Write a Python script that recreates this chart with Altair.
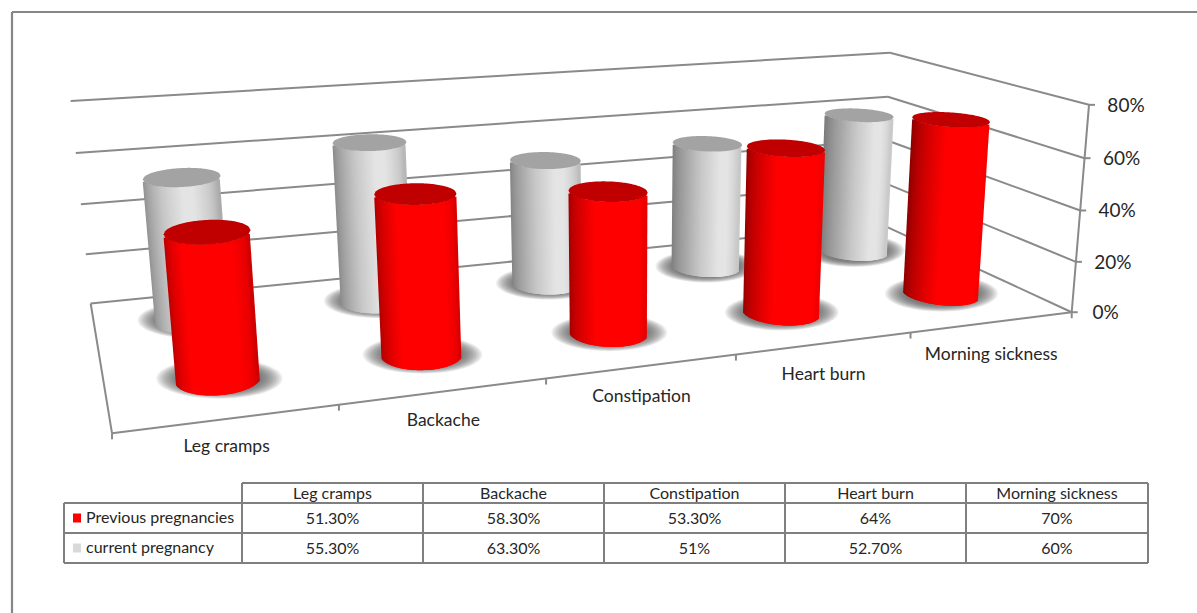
import altair as alt
import numpy as np
import pandas as pd

# Symptom prevalence per pregnancy group, in percent
categories = ["Leg cramps", "Backache", "Constipation", "Heart burn", "Morning sickness"]
previous = [51.3, 58.3, 53.3, 64, 70]
current = [55.3, 63.3, 51, 52.7, 60]
series_names = ["Previous pregnancies", "current pregnancy"]
axis_ticks = [0, 20, 40, 60, 80]

W, H = 1197, 613
AXIS_MAX = 80

# Calibration of the 3D box: (column, depth, percent) -> page position
box_world = [(0, 0, 0), (0, 1, 0), (5, 1, 0), (5, 0, 0), (0, 1, 80), (5, 1, 80), (5, 0, 80), (0, 0, 80),
             (0, 1, 20), (0, 1, 40), (0, 1, 60), (5, 1, 60), (5, 0, 20), (5, 0, 40), (5, 0, 60)]
box_page = [(112, 433), (90, 303), (885, 228), (1069, 312), (72, 99), (888, 54), (1090, 102), (88, 190),
            (85, 253.5), (80.5, 202.5), (76, 150.5), (887, 98.5), (1076, 261), (1081, 209.7), (1085, 155)]


def fit_camera(world, page):
    rows = []
    for (u, v, h), (x, y) in zip(world, page):
        X = [u, v, h / AXIS_MAX, 1]
        rows.append(X + [0, 0, 0, 0] + [-x / W * c for c in X])
        rows.append([0, 0, 0, 0] + X + [-y / H * c for c in X])
    return np.linalg.svd(np.array(rows))[2][-1].reshape(3, 4)


CAM = fit_camera(box_world, box_page)


def proj(u, v, h):
    u, v, h = np.asarray(u, float), np.asarray(v, float), np.asarray(h, float)
    X = np.stack(np.broadcast_arrays(u, v, h / AXIS_MAX, np.ones_like(u)))
    a, b, c = CAM @ X
    return a / c * W, b / c * H


def seg(p, q, **extra):
    return dict(x=float(p[0]), y=float(p[1]), x2=float(q[0]), y2=float(q[1]), **extra)


# Box edges, gridlines and ticks
frame = []
for h in axis_ticks:
    frame.append(seg(proj(0, 1, h), proj(5, 1, h)))
    frame.append(seg(proj(5, 1, h), proj(5, 0, h)))
    tip = proj(5, 0, h)
    frame.append(seg(tip, (tip[0] + 6, tip[1])))
frame.append(seg(proj(5, 0, 0), proj(5, 0, 80)))
frame.append(seg(proj(0, 1, 0), proj(0, 0, 0)))
frame.append(seg(proj(0, 0, 0), proj(5, 0, 0)))
for i in range(6):
    foot = proj(i, 0, 0)
    frame.append(seg(foot, (foot[0], foot[1] + 6)))

# Cylinder geometry in box units
RU, RV = 0.197, 0.115
DEPTH = {0: 0.27, 1: 0.75}
X_SHIFT = {0: 0.022, 1: 0.005}
STEP = 1.0
STRIP = 3.0

SHADES = [
    dict(angle=[-115, -90, -60, -40, 25, 50, 70, 90, 115],
         col=[(130, 0, 0), (176, 0, 0), (224, 0, 0), (255, 0, 0), (255, 0, 0), (232, 0, 0), (192, 0, 0), (128, 0, 0), (90, 0, 0)],
         lid="#c00000"),
    dict(angle=[-115, -90, -60, -35, -5, 10, 40, 65, 90, 115],
         col=[(115, 115, 115), (136, 136, 136), (168, 168, 168), (200, 200, 200), (228, 228, 228), (228, 228, 228),
              (200, 200, 200), (168, 168, 168), (128, 128, 128), (100, 100, 100)],
         lid="#a3a3a3"),
]


def shade(theta, style):
    c = np.array(style["col"], float)
    rgb = [np.interp(theta, style["angle"], c[:, k]) for k in range(3)]
    return "#%02x%02x%02x" % tuple(int(round(v)) for v in rgb)


def rim(i, s, theta, h):
    uc, vc = i + 0.5 + X_SHIFT[s], DEPTH[s]
    return proj(uc + RU * np.sin(theta), vc - RV * np.cos(theta), np.full_like(theta, h))


# Floor shadows are stacks of faint ellipses that build up towards the cylinder
SHADOW_PATH = "M-1,0A1,0.32 0 1,0 1,0A1,0.32 0 1,0 -1,0Z"
SHADOW_SPREAD = np.linspace(1.0, 1.5, 14)

xs = alt.Scale(domain=[0, W], range=[0, W])
ys = alt.Scale(domain=[0, H], range=[0, H])
X = alt.X("x:Q", scale=xs, axis=None)
Y = alt.Y("y:Q", scale=ys, axis=None)
GRID = "#8a8a8a"

layers = [
    alt.Chart(pd.DataFrame(frame)).mark_rule(color=GRID, strokeWidth=2).encode(X, Y, x2="x2:Q", y2="y2:Q")
]

# Back row first so the front row paints over it
for s, values in ((1, current), (0, previous)):
    style = SHADES[s]
    strips, lids, shadows = [], [], []
    for i, val in enumerate(values):
        t = np.radians(np.linspace(-180, 180, 721))
        mx, _ = rim(i, s, t, val / 2)
        tl, tr = t[np.argmin(mx[:360])], t[360 + np.argmax(mx[360:])]
        arc = np.linspace(tl, tr, 400)
        ax, _ = rim(i, s, arc, val / 2)
        for px in np.arange(ax[0] + STRIP / 2, ax[-1] - STRIP / 2 + 0.01, STEP):
            th = np.interp(px, ax, arc)
            bx, by = rim(i, s, np.array([th]), 0)
            ux, uy = rim(i, s, np.array([th]), val)
            strips.append(seg((bx[0], by[0]), (ux[0], uy[0]), c=shade(np.degrees(th), style)))
        # Lid outline split into near and far arcs, then filled between them
        ex, ey = rim(i, s, t, val)
        grid = np.linspace(ex.min(), ex.max(), 60)
        front = (t >= tl) & (t <= tr)
        f = np.argsort(ex[front])
        b = np.argsort(ex[~front])
        yf = np.interp(grid, ex[front][f], ey[front][f])
        yb = np.interp(grid, ex[~front][b], ey[~front][b])
        for g, a, c in zip(grid, yb, yf):
            lids.append(dict(x=float(g), y=float(a), y2=float(c), id=i))
        cx, cy = proj(i + 0.5 + X_SHIFT[s], DEPTH[s], 0)
        wx, _ = rim(i, s, t, 0)
        half = (wx.max() - wx.min()) / 2
        for spread in SHADOW_SPREAD[::-1]:
            shadows.append(dict(x=float(cx) + 1, y=float(cy), size=float((2 * half * spread) ** 2)))
    layers.append(
        alt.Chart(pd.DataFrame(shadows))
        .mark_point(filled=True, shape=SHADOW_PATH, color="#4d4d4d", opacity=0.085, strokeWidth=0)
        .encode(X, Y, size=alt.Size("size:Q", scale=None))
    )
    layers.append(
        alt.Chart(pd.DataFrame(strips))
        .mark_rule(strokeWidth=STRIP)
        .encode(X, Y, x2="x2:Q", y2="y2:Q", color=alt.Color("c:N", scale=None))
    )
    layers.append(
        alt.Chart(pd.DataFrame(lids))
        .mark_area(orient="vertical", color=style["lid"], interpolate="linear")
        .encode(X, Y, y2="y2:Q", detail="id:N")
    )

FONT = "Lato"
TEXT = "#262626"

# Percent labels beside the value edge
tick_rows = []
for h in axis_ticks:
    px, py = proj(5, 0, h)
    tick_rows.append(dict(x=float(px) + 37 - (0 if h else 3), y=float(py) + 1, t=f"{h}%"))
layers.append(
    alt.Chart(pd.DataFrame(tick_rows))
    .mark_text(font=FONT, fontSize=19, color=TEXT, align="center", baseline="middle")
    .encode(X, Y, text="t:N")
)

# Category names under the front edge
cat_rows = []
for i, name in enumerate(categories):
    px, py = proj(i + 0.5, 0, 0)
    cat_rows.append(dict(x=float(px) - 1.5, y=float(py) + 28 + 1.2 * i, t=name))
layers.append(
    alt.Chart(pd.DataFrame(cat_rows))
    .mark_text(font=FONT, fontSize=17.5, color=TEXT, align="center", baseline="middle")
    .encode(X, Y, text="t:N")
)

# Data table
col_edges = [242, 423, 604, 785, 966, 1148]
row_edges = [483, 503, 533, 563]
LEFT = 64
cells = []
for k, y in enumerate(row_edges):
    cells.append(dict(x=col_edges[0] if k == 0 else LEFT, y=y, x2=col_edges[-1], y2=y))
for x in col_edges:
    cells.append(dict(x=x, y=row_edges[0], x2=x, y2=row_edges[-1]))
cells.append(dict(x=LEFT, y=row_edges[1], x2=LEFT, y2=row_edges[-1]))
layers.append(
    alt.Chart(pd.DataFrame(cells)).mark_rule(color="#7f7f7f", strokeWidth=2).encode(X, Y, x2="x2:Q", y2="y2:Q")
)


def pct(v):
    return f"{v:g}%" if float(v).is_integer() else f"{v:.2f}%"


table_rows = []
for i, name in enumerate(categories):
    cx = (col_edges[i] + col_edges[i + 1]) / 2
    table_rows.append(dict(x=cx, y=(row_edges[0] + row_edges[1]) / 2 + 0.5, t=name))
    table_rows.append(dict(x=cx, y=(row_edges[1] + row_edges[2]) / 2 + 1, t=pct(previous[i])))
    table_rows.append(dict(x=cx, y=(row_edges[2] + row_edges[3]) / 2 + 1, t=pct(current[i])))
layers.append(
    alt.Chart(pd.DataFrame(table_rows))
    .mark_text(font=FONT, fontSize=16, color=TEXT, align="center", baseline="middle")
    .encode(X, Y, text="t:N")
)

legend_rows = [
    dict(x=86, y=(row_edges[1] + row_edges[2]) / 2, t=series_names[0], kx=73, kx2=81, c="#ff0000"),
    dict(x=86, y=(row_edges[2] + row_edges[3]) / 2, t=series_names[1], kx=73, kx2=81, c="#d9d9d9"),
]
legend_df = pd.DataFrame(legend_rows)
legend_df["ky"] = legend_df["y"] - 4.5
legend_df["ky2"] = legend_df["y"] + 4.5
layers.append(
    alt.Chart(legend_df)
    .mark_rect()
    .encode(alt.X("kx:Q", scale=xs, axis=None), alt.Y("ky:Q", scale=ys, axis=None), x2="kx2:Q", y2="ky2:Q",
            color=alt.Color("c:N", scale=None))
)
layers.append(
    alt.Chart(legend_df)
    .mark_text(font=FONT, fontSize=16, color=TEXT, align="left", baseline="middle")
    .encode(X, Y, text="t:N")
)

# Outer frame: left and top edges of the chart area
outer = pd.DataFrame([dict(x=12, y=12, x2=12, y2=H), dict(x=12, y=12, x2=W, y2=12)])
layers.append(alt.Chart(outer).mark_rule(color="#868686", strokeWidth=2.2).encode(X, Y, x2="x2:Q", y2="y2:Q"))

chart = (
    alt.layer(*layers)
    .properties(width=W, height=H, padding=0, autosize=alt.AutoSizeParams(type="none"), background="white")
    .configure_view(stroke=None)
)
chart.save("out.html", embed_options={"renderer": "svg", "actions": False})
